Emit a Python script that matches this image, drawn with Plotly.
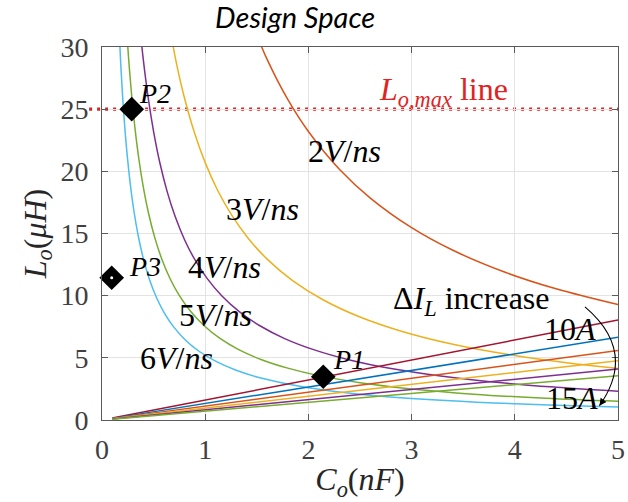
import plotly.graph_objects as go

# ---- data -------------------------------------------------------------
# dv/dt constraint curves: output capacitance C_o (nF) vs inductance L_o (uH)
C_2V = [1.45, 1.6, 1.8, 2.0, 2.3, 2.6, 3.0, 3.4, 3.9, 4.4, 5.0]
L_2V = [32.0, 29.0, 25.78, 23.2, 20.17, 17.85, 15.47, 13.65, 11.9, 10.55, 9.28]

C_3V = [0.65, 0.72, 0.8, 0.9, 1.0, 1.12, 1.26, 1.42, 1.6, 1.85, 2.15, 2.5, 2.9, 3.4, 4.0, 4.5, 5.0]
L_3V = [31.85, 28.75, 25.88, 23.0, 20.7, 18.48, 16.43, 14.58, 12.94, 11.19, 9.63, 8.28, 7.14, 6.09, 5.18, 4.6, 4.14]

C_4V = [0.36, 0.4, 0.45, 0.5, 0.56, 0.63, 0.71, 0.8, 0.9, 1.02, 1.16, 1.33, 1.53, 1.77, 2.05, 2.4, 2.8, 3.3, 3.9, 4.4, 5.0]
L_4V = [32.22, 29.0, 25.78, 23.2, 20.71, 18.41, 16.34, 14.5, 12.89, 11.37, 10.0, 8.72, 7.58, 6.55, 5.66, 4.83, 4.14, 3.52, 2.97, 2.64, 2.32]

C_5V = [0.235, 0.26, 0.29, 0.32, 0.36, 0.4, 0.45, 0.51, 0.58, 0.66, 0.75, 0.86, 0.99, 1.14, 1.32, 1.54, 1.8, 2.1, 2.5, 3.0, 3.6, 4.3, 5.0]
L_5V = [31.91, 28.85, 25.86, 23.44, 20.83, 18.75, 16.67, 14.71, 12.93, 11.36, 10.0, 8.72, 7.58, 6.58, 5.68, 4.87, 4.17, 3.57, 3.0, 2.5, 2.08, 1.74, 1.5]

C_6V = [0.163, 0.18, 0.2, 0.22, 0.245, 0.275, 0.31, 0.35, 0.4, 0.46, 0.53, 0.61, 0.7, 0.81, 0.94, 1.1, 1.3, 1.55, 1.85, 2.2, 2.65, 3.2, 3.8, 4.4, 5.0]
L_6V = [31.9, 28.89, 26.0, 23.64, 21.22, 18.91, 16.77, 14.86, 13.0, 11.3, 9.81, 8.52, 7.43, 6.42, 5.53, 4.73, 4.0, 3.35, 2.81, 2.36, 1.96, 1.63, 1.37, 1.18, 1.04]

# ripple-current constraint lines (10 A .. 15 A), end points
C_RIPPLE = [0.1, 5.0]
L_RIPPLE = {
    "10A": [0.16, 8.04],
    "11A": [0.13, 6.65],
    "12A": [0.11, 5.6],
    "13A": [0.095, 4.77],
    "14A": [0.08, 4.1],
    "15A": [0.07, 3.56],
}

# maximum inductance limit
LO_MAX = 25

# design points
P_NAMES = ["P1", "P2", "P3"]
P_C = [2.144, 0.288, 0.094]
P_L = [3.48, 25.0, 11.44]

# tick labels
X_TICKS = [0, 1, 2, 3, 4, 5]
Y_TICKS = [0, 5, 10, 15, 20, 25, 30]

# ---- styling ----------------------------------------------------------
BLUE = "#0072BD"
ORANGE = "#D95319"
YELLOW = "#EDB120"
PURPLE = "#7E2F8E"
GREEN = "#77AC30"
CYAN = "#4DBEEE"
CRIMSON = "#A2142F"
RED = "#E02222"
SERIF = "'Liberation Serif', 'Times New Roman', Times, 'DejaVu Serif', serif"

fig = go.Figure()

curves = [
    (C_2V, L_2V, ORANGE),
    (C_3V, L_3V, YELLOW),
    (C_4V, L_4V, PURPLE),
    (C_5V, L_5V, GREEN),
    (C_6V, L_6V, CYAN),
]
for cx, ly, col in curves:
    fig.add_trace(go.Scatter(x=cx, y=ly, mode="lines",
                             line=dict(color=col, width=1.5, shape="spline"),
                             hoverinfo="skip"))

ripple_colors = [CRIMSON, BLUE, ORANGE, YELLOW, PURPLE, GREEN]
for (name, ly), col in zip(L_RIPPLE.items(), ripple_colors):
    fig.add_trace(go.Scatter(x=C_RIPPLE, y=ly, mode="lines", name=name,
                             line=dict(color=col, width=1.5), hoverinfo="skip"))

# L_o,max dotted limit (slightly overhanging the left axis)
fig.add_shape(type="line", xref="paper", yref="y", x0=-0.025, x1=1,
              y0=LO_MAX, y1=LO_MAX, layer="below",
              line=dict(color=RED, width=3.4, dash="3px,5px"))

# design points
fig.add_trace(go.Scatter(x=P_C, y=P_L, mode="markers",
                         marker=dict(symbol="diamond", size=19, color="black"),
                         cliponaxis=False, hoverinfo="skip"))
fig.add_trace(go.Scatter(x=P_C[2:], y=P_L[2:], mode="markers",
                         marker=dict(symbol="circle", size=3, color="white"),
                         cliponaxis=False, hoverinfo="skip"))

# ---- labels -----------------------------------------------------------
def label(x, y, text, size=32, color="black", xanchor="center"):
    fig.add_annotation(x=x, y=y, text=text, showarrow=False, xanchor=xanchor,
                       yanchor="middle",
                       font=dict(family=SERIF, size=size, color=color))

label(2.352, 21.6, "2<i>V</i>/<i>ns</i>")
label(1.56, 17.0, "3<i>V</i>/<i>ns</i>")
label(1.19, 12.3, "4<i>V</i>/<i>ns</i>")
label(1.098, 8.44, "5<i>V</i>/<i>ns</i>")
label(0.719, 5.02, "6<i>V</i>/<i>ns</i>")

label(2.395, 4.85, "<i>P1</i>", size=28)
label(0.516, 26.3, "<i>P2</i>", size=28)
label(0.414, 12.32, "<i>P3</i>", size=28)

label(3.31, 26.4, "<i>L</i><sub><i>o,max</i></sub> line", color=RED)
label(3.585, 9.65, "Δ<i>I</i><sub><i>L</i></sub> increase")
label(4.535, 7.3, "10<i>A</i>")
label(4.55, 1.81, "15<i>A</i>")

# curved arrow from "increase" down to 15A
AX0, AY0 = 4.68, 9.1
ACX, ACY = 5.19, 5.5
AX1, AY1 = 4.82, 1.15
fig.add_shape(type="path", xref="x", yref="y",
              path=f"M {AX0},{AY0} Q {ACX},{ACY} {AX1},{AY1}",
              line=dict(color="black", width=1.1))
fig.add_annotation(x=AX1, y=AY1, ax=AX1 + (ACX - AX1) * 0.12,
                   ay=AY1 + (ACY - AY1) * 0.12, axref="x", ayref="y",
                   xref="x", yref="y", text="", showarrow=True,
                   arrowhead=2, arrowsize=1.3, arrowwidth=1.1,
                   arrowcolor="black", standoff=0)

# ---- layout -----------------------------------------------------------
axis_common = dict(
    showline=True, linecolor="#5a5a5a", linewidth=1, mirror="ticks",
    ticks="inside", ticklen=6, tickcolor="#5a5a5a", tickwidth=1,
    showgrid=True, gridcolor="#e3e3e3", gridwidth=1, zeroline=False,
    automargin=False,
    tickfont=dict(family=SERIF, size=28, color="#404040"),
)

fig.update_layout(
    width=628, height=502,
    margin=dict(l=102, r=10, t=47, b=82),
    paper_bgcolor="white", plot_bgcolor="white",
    showlegend=False,
    title=dict(text="<i>Design Space</i>", x=0.47, xref="container",
               xanchor="center", y=0.964, yref="container", yanchor="middle",
               font=dict(family="Lato", size=29, color="black")),
    xaxis=dict(range=[0, 5], tickvals=X_TICKS, ticklabelstandoff=4,
               title=dict(text="<i>C</i><sub><i>o</i></sub>(<i>nF</i>)",
                          standoff=12,
                          font=dict(family=SERIF, size=32, color="#262626")),
               **axis_common),
    yaxis=dict(range=[0, 30], tickvals=Y_TICKS, ticklabelstandoff=7,
               title=dict(text="<i>L</i><sub><i>o</i></sub>(<i>μH</i>)",
                          standoff=4,
                          font=dict(family=SERIF, size=32, color="#262626")),
               **axis_common),
)

fig.write_html("out.html")
